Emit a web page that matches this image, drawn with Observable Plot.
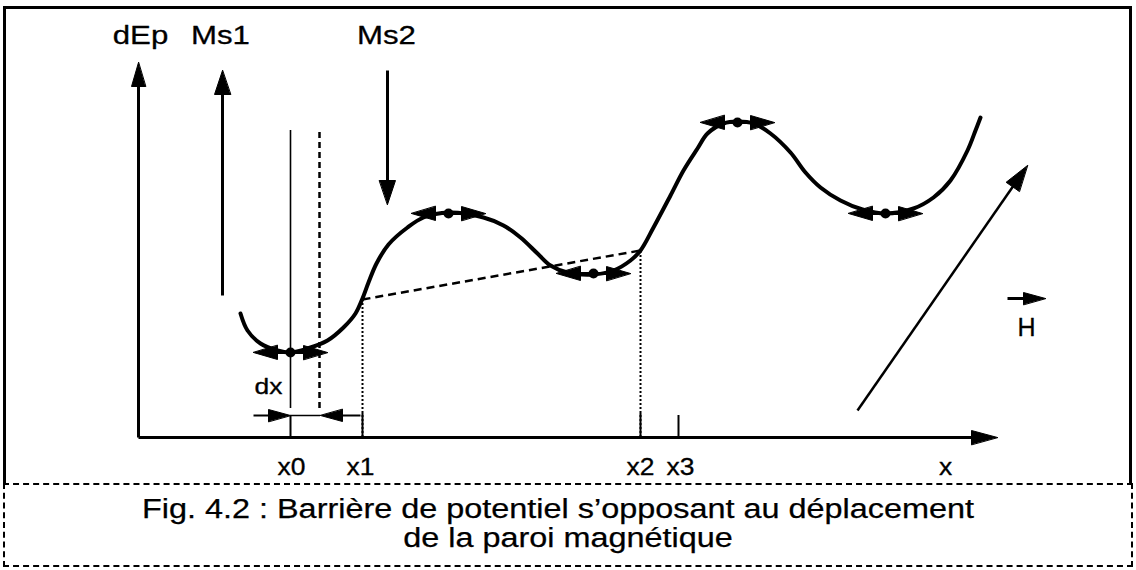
<!DOCTYPE html>
<html><head><meta charset="utf-8">
<script src="https://cdn.jsdelivr.net/npm/d3@7"></script>
<script src="https://cdn.jsdelivr.net/npm/@observablehq/plot@0.6"></script>
<style>
body{margin:0;background:#fff;}
#wrap{position:relative;width:1136px;height:570px;margin:0;font-family:"Liberation Sans",Arial,Helvetica,sans-serif;}
#chart{position:absolute;left:0;top:0;}
#frame{position:absolute;left:3px;top:6px;width:1129px;height:478px;box-sizing:border-box;border:3px solid #000;border-bottom:none;pointer-events:none}
figcaption{position:absolute;left:3px;top:483px;width:1130px;height:84px;box-sizing:border-box;border:2px dashed #000;margin:0;padding-top:10px;font-size:27px;line-height:29px;color:#000;-webkit-text-stroke:0.25px #000}
figcaption div{text-align:center;transform-origin:50% 50%}
figcaption .l1{transform:translateX(-10px) scaleX(1.2)}
figcaption .l2{transform:scaleX(1.2)}
</style></head>
<body>
<figure id="wrap">
<div id="chart"></div>
<div id="frame"></div>
<figcaption><div class="l1">Fig. 4.2 : Barrière de potentiel s’opposant au déplacement</div><div class="l2">de la paroi magnétique</div></figcaption>
</figure>
<script>
// ---- Data (diagram units: position x along the axis, energy dEp) ----
const curveX = [102,109,122,139,152,169,189,205,217,224,230,238,250,269,285,310,345,365,382,399,412,429,455,475,492,502,515,532,545,559,569,585,599,615,632,652,667,682,702,724,747,775,795,812,829,837,842];
const curveY = [124,107,94,87,85,89,97,110,124,139,155,174,193,210,220,225,220,212,200,184,172,165,163,167,177,187,210,242,267,289,304,314,316,314,304,285,265,250,237,228,224,229,240,257,287,307,320];

// equilibrium positions (extrema) carrying the double arrows
const extremaX = [152,310,455,599,747];
const extremaY = [85,224,164,315,224];

// marked positions on the x axis
const tickNames = ["x0","x1","x2","x3"];
const tickX = [152,224,502,540];
const tickTop = [22,24,24,22];
const axisLabels = ["x0","x1","x2","x3","x"];
const axisLabelX = [153,222,502,542,807];

// secant between the curve at x1 and x2
const secantX = [224,502];
const secantY = [138,187];

// domain wall: position x0 and displaced position x0+dx
const wallX = [152,181];
const wallY = [29,307];

// magnetisation arrows Ms1 (up) and Ms2 (down)
const msNames = ["Ms1","Ms2"];
const msX = [84,249];
const msFrom = [142,367];
const msTo = [367,233];

// top labels
const topLabels = ["dEp","Ms1","Ms2"];
const topLabelX = [2,82,248];
const topLabelY = 394;

// dx indicator
const dxFrom = 115, dxTo = 222, dxLevel = 22, dxTipA = 152, dxTipB = 182;
const dxLabel = {x:130, y:44, text:"dx"};

// applied field H
const fieldFrom = [719,27], fieldTo = [889,272];
const hArrowFrom = [869,139], hArrowTo = [907,139];
const hLabel = {x:888, y:102, text:"H"};

// axes
const xAxisEnd = 859, yAxisEnd = 375;

// ---- geometry helpers ----
const heads = [];
const shafts = [];
let hid = 0;
function arrow(x1,y1,x2,y2,L,W,sw){
  const dx=x2-x1, dy=y2-y1, len=Math.hypot(dx,dy), ux=dx/len, uy=dy/len;
  const bx=x2-L*ux, by=y2-L*uy;
  const id = hid++;
  heads.push({id,x:x2,y:y2},{id,x:bx-W*uy,y:by+W*ux},{id,x:bx+W*uy,y:by-W*ux});
  shafts.push({x1,y1,x2:bx+2*ux,y2:by+2*uy,sw});
}
arrow(0,0,0,yAxisEnd,24,7,3);
arrow(0,0,xAxisEnd,0,26,7,3);
msX.forEach((x,i)=>arrow(x,msFrom[i],x,msTo[i],24,8,3));
arrow(fieldFrom[0],fieldFrom[1],fieldTo[0],fieldTo[1],26,8,2.5);
arrow(hArrowFrom[0],hArrowFrom[1],hArrowTo[0],hArrowTo[1],22,6,3);
extremaX.forEach((x,i)=>{
  arrow(x,extremaY[i],x-37,extremaY[i],24,7,3);
  arrow(x,extremaY[i],x+37,extremaY[i],24,7,3);
});
arrow(dxFrom,dxLevel,dxTipA,dxLevel,22,6,2);
arrow(dxTo,dxLevel,dxTipB,dxLevel,22,6,2);

const curve = curveX.map((x,i)=>({x,y:curveY[i]}));
const extrema = extremaX.map((x,i)=>({x,y:extremaY[i]}));
const ticks = tickX.map((x,i)=>({name:tickNames[i],x,top:tickTop[i]}));
const xlabels = axisLabels.map((t,i)=>({t,x:axisLabelX[i]}));
const tlabels = topLabels.map((t,i)=>({t,x:topLabelX[i]}));

const textStyle = {lineAnchor:"bottom", textAnchor:"middle", fill:"#000", stroke:"#000", strokeWidth:0.3};
const plot = Plot.plot({
  width:1136, height:485,
  margin:0,
  x:{domain:[-138,998], axis:null},
  y:{domain:[-48,437], axis:null},
  style:{fontFamily:'"Liberation Sans", Arial, Helvetica, sans-serif', background:"transparent", color:"#000", overflow:"visible"},
  marks:[
    Plot.ruleX([secantX[0]],{x:d=>d, y1:0, y2:secantY[0], stroke:"#000", strokeWidth:2, strokeDasharray:"2,2"}),
    Plot.ruleX([secantX[1]],{x:d=>d, y1:0, y2:secantY[1], stroke:"#000", strokeWidth:2, strokeDasharray:"2,2"}),
    Plot.link([0],{x1:()=>secantX[0], y1:()=>secantY[0], x2:()=>secantX[1], y2:()=>secantY[1], stroke:"#000", strokeWidth:2.5, strokeDasharray:"8,5"}),
    Plot.ruleX([wallX[0]],{x:d=>d, y1:wallY[0], y2:wallY[1], stroke:"#000", strokeWidth:1.6}),
    Plot.ruleX([wallX[1]],{x:d=>d, y1:wallY[0], y2:wallY[1], stroke:"#000", strokeWidth:2.5, strokeDasharray:"6,4"}),
    Plot.ruleX(ticks,{x:"x", y1:0, y2:"top", stroke:"#000", strokeWidth:2}),
    Plot.ruleY([dxLevel],{y:d=>d, x1:dxTipA, x2:dxTipB, stroke:"#000", strokeWidth:1.5}),
    Plot.line(curve,{x:"x", y:"y", curve:"catmull-rom", stroke:"#000", strokeWidth:4, strokeLinecap:"round"}),
    Plot.link(shafts,{x1:"x1", y1:"y1", x2:"x2", y2:"y2", stroke:"#000", strokeWidth:"sw"}),
    Plot.line(heads,{x:"x", y:"y", z:"id", fill:"#000", stroke:"#000", strokeWidth:1, curve:"linear-closed"}),
    Plot.dot(extrema,{x:"x", y:"y", r:5, fill:"#000", stroke:"none"}),
    Plot.text(tlabels,{x:"x", y:()=>topLabelY, text:"t", fontSize:26, ...textStyle}),
    Plot.text(xlabels,{x:"x", y:()=>-37, text:"t", fontSize:23, ...textStyle}),
    Plot.text([dxLabel],{x:"x", y:"y", text:"text", fontSize:22, ...textStyle}),
    Plot.text([hLabel],{x:"x", y:"y", text:"text", fontSize:25, ...textStyle})
  ]
});
document.getElementById("chart").appendChild(plot);
// the scanned original is horizontally stretched: widen glyphs accordingly
const stretch = {"26":1.2, "23":1.15, "22":1.2, "25":1.0};
plot.querySelectorAll("text").forEach(t=>{
  const g = t.closest("[font-size]");
  const f = stretch[g ? g.getAttribute("font-size") : ""] || 1;
  const w = t.getComputedTextLength();
  if (w>0 && f!==1){ t.setAttribute("textLength", (w*f).toFixed(1)); t.setAttribute("lengthAdjust","spacingAndGlyphs"); }
});
</script>
</body></html>
